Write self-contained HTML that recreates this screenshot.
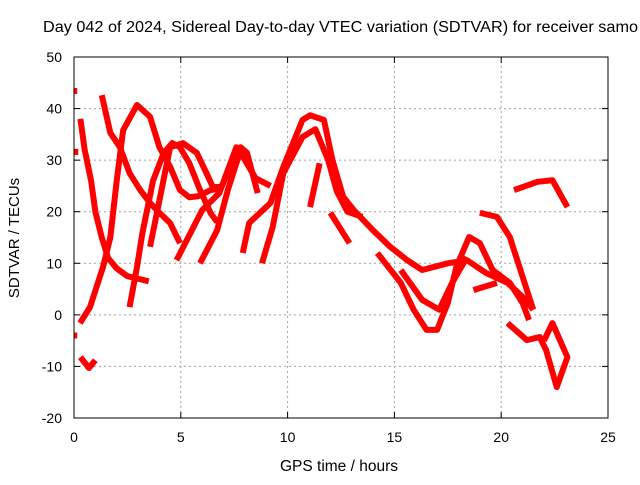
<!DOCTYPE html>
<html><head><meta charset="utf-8"><style>
body{margin:0;background:#fff;width:640px;height:480px;overflow:hidden}
svg{font-family:"Liberation Sans",sans-serif;font-size:13px}
</style></head><body>
<svg id="chart" width="640" height="480">
<text x="43" y="32" font-size="15.5" textLength="595" lengthAdjust="spacingAndGlyphs">Day 042 of 2024, Sidereal Day-to-day VTEC variation (SDTVAR) for receiver samo</text>
<text x="339" y="471" text-anchor="middle" font-size="15.5">GPS time / hours</text>
<text transform="translate(19,238) rotate(-90)" text-anchor="middle" font-size="15">SDTVAR / TECUs</text>
<g id="grid"></g><g id="series"></g><g id="axes"></g>
</svg>
<script>
const xTicks=[0,5,10,15,20,25];
const yTicks=[-20,-10,0,10,20,30,40,50];
const trackA=[[0.3,38],[0.5,32],[0.8,26],[1.0,20],[1.3,15],[1.6,11],[2.0,9],[2.5,7.5],[3.0,7],[3.5,6.5]];
const trackB=[[0.28,-1.6],[0.75,1.5],[1.36,9.3],[1.7,15],[2.0,26],[2.3,35.8],[2.95,40.7],[3.56,38.4],[4.0,32.5],[4.5,28.7],[4.96,24.2],[5.4,22.8],[5.8,23],[6.4,24.2],[6.9,24.5]];
const trackC=[[1.3,42.6],[1.7,35.3],[2.15,32.5],[2.6,27.5],[3.1,24.2],[3.56,21.7],[4.0,19.8],[4.5,17.8],[4.96,13.9]];
const trackD=[[2.6,1.5],[2.95,9.3],[3.2,15.8],[3.7,26],[4.2,31.4],[4.6,33.3],[4.96,32.5],[5.4,29.4],[5.9,24.2],[6.4,19.7],[6.7,18]];
const trackE=[[3.56,13.2],[4.5,32.5],[5.1,33.3],[5.75,31.4],[6.2,27.5],[6.5,24.8],[6.9,24.8],[7.4,29.4],[7.8,32.5],[8.1,31.4],[8.6,23.6]];
const trackF=[[4.8,10.6],[6.0,20.3],[6.8,23.6],[7.6,32.5],[8.0,30],[8.5,26.5],[9.2,25]];
const trackG=[[5.9,10],[6.7,16.4],[7.2,24.2],[7.8,32]];
const trackH=[[7.9,12],[8.2,17.8],[9.2,21.7],[9.8,28.7],[10.7,37.8],[11.05,38.7],[11.7,37.8],[12.1,30],[12.6,22.9],[13.1,20.3],[14,16.4],[14.8,13.2],[15.6,10.6],[16.3,8.7],[17.5,10],[18.4,10.6],[19.3,8.1],[20.3,6.2],[21,3.5],[21.5,1]];
const trackI=[[8.8,10],[9.3,17],[9.8,27.5],[10.7,34.5],[11.3,36],[11.9,30],[12.3,24],[12.8,20],[13.5,19]];
const trackK=[[14.2,12],[15.3,6.2],[15.9,1],[16.5,-2.9],[17,-2.9],[17.5,2.3],[17.9,9.3],[18.5,15.1],[19,13.9],[19.6,8.7],[20.4,6.2],[21,2.3],[21.3,-1]];
const trackL=[[11.5,29.4],[11.05,20.9]];
const trackM=[[12,19.8],[12.9,13.9]];
const trackN=[[19,19.8],[19.8,19],[20.4,15.1],[20.9,8.7],[21.5,1]];
const trackO=[[20.6,24.2],[21.7,25.8],[22.4,26.1],[23.1,20.9]];
const trackP=[[20.3,-1.6],[21.2,-4.9],[21.8,-4.3],[22.1,-6.8],[22.6,-14],[23.1,-8.2],[22.4,-1.6],[22,-5]];
const trackQ=[[18.7,4.8],[19.8,6.2]];
const trackR=[[15.3,8.7],[16.3,2.9],[17.1,1],[17.7,6.2],[18.4,11.2]];
const trackS=[[0.3,-8.2],[0.7,-10.3],[1.0,-8.8]];
const trackT=[[0,43.4],[0.15,43.4]];
const trackU=[[0,-4],[0.15,-4]];
const trackV=[[0,31.6],[0.2,31.6]];
const tracks=[trackA,trackB,trackC,trackD,trackE,trackF,trackG,trackH,trackI,trackK,trackL,trackM,trackN,trackO,trackP,trackQ,trackR,trackS,trackT,trackU,trackV];
const X0=74,X1=608,Y0=418,Y1=57;
const xs=v=>X0+(v-0)/25*(X1-X0);
const ys=v=>Y0-(v+20)/70*(Y0-Y1);
const NS="http://www.w3.org/2000/svg";
const grid=document.getElementById('grid'),axes=document.getElementById('axes'),ser=document.getElementById('series');
function mk(tag,attrs,parent){const e=document.createElementNS(NS,tag);for(const k in attrs)e.setAttribute(k,attrs[k]);parent.appendChild(e);return e;}
xTicks.forEach(t=>{
  const x=xs(t);
  if(t>0&&t<25){const l=mk('line',{x1:x,x2:x,y1:Y0,y2:Y1,stroke:'#a0a0a0','stroke-dasharray':'2,3'},grid);
  
  }
  mk('line',{x1:x,x2:x,y1:Y0,y2:Y0-6,stroke:'#000'},axes);
  mk('line',{x1:x,x2:x,y1:Y1,y2:Y1+6,stroke:'#000'},axes);
  const tx=mk('text',{x:x,y:Y0+24,'text-anchor':'middle','font-size':14},axes);tx.textContent=t;
  
  
});
yTicks.forEach(t=>{
  const y=ys(t);
  if(t>-20&&t<50){const l=mk('line',{x1:X0,x2:X1,y1:y,y2:y,stroke:'#a0a0a0','stroke-dasharray':'2,3'},grid);
  
  }
  mk('line',{x1:X0,x2:X0+6,y1:y,y2:y,stroke:'#000'},axes);
  mk('line',{x1:X1,x2:X1-6,y1:y,y2:y,stroke:'#000'},axes);
  const tx=mk('text',{x:X0-12,y:y+5,'text-anchor':'end','font-size':14},axes);tx.textContent=t;
  
  
});
const frame=mk('rect',{x:X0,y:Y1,width:X1-X0,height:Y0-Y1,fill:'none',stroke:'#000'},axes);


tracks.forEach(tr=>{
  const p=mk('polyline',{points:tr.map(d=>xs(d[0])+','+ys(d[1])).join(' '),fill:'none',stroke:'#ff0000','stroke-width':6,'stroke-linejoin':'round','stroke-linecap':'butt'},ser);
  
  
});
</script>
</body></html>
